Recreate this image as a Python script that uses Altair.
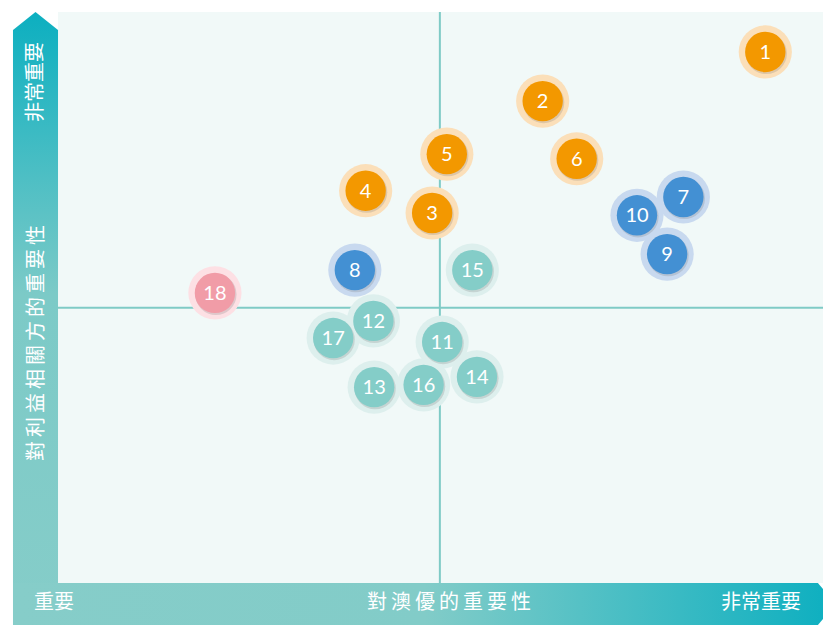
import altair as alt
import pandas as pd

# ---- data (0-10 scales) ----
ids = ["1", "2", "3", "4", "5", "6", "7", "8", "9", "10",
       "11", "12", "13", "14", "15", "16", "17", "18"]
x_vals = [9.15, 6.27, 4.84, 3.98, 5.03, 6.71, 8.09, 3.84, 7.88, 7.49,
          4.97, 4.08, 4.09, 5.42, 5.36, 4.73, 3.56, 2.03]
y_vals = [9.30, 8.44, 6.48, 6.87, 7.51, 7.43, 6.76, 5.48, 5.76, 6.44,
          4.22, 4.59, 3.43, 3.61, 5.48, 3.47, 4.29, 5.08]
groups = ["A", "A", "A", "A", "A", "A", "B", "B", "B", "B",
          "C", "C", "C", "C", "C", "C", "C", "D"]
group_names = ["A", "B", "C", "D"]
inner_colors = ["#f39800", "#4390d3", "#84cdc8", "#f19ca7"]
halo_colors = ["#fbdfb9", "#c8d9ef", "#ddefed", "#fde0e4"]

center_x = [4.94]
center_y = [4.82]

y_top_label = "非常重要"
y_title = "\u2009".join("對利益相關方的重要性")
x_title = "\u2009".join("對澳優的重要性")
x_low_label = "重要"
x_high_label = "非常重要"

df = pd.DataFrame({"id": ids, "x": x_vals, "y": y_vals, "g": groups})
one = pd.DataFrame({"cx": center_x, "cy": center_y})

PW = 765  # plot width that fits the page (visible part of a 773px-wide 0-10 scale)
xs = alt.Scale(domain=[0, 10 * PW / 773], nice=False, zero=False)
ys = alt.Scale(domain=[0, 10], nice=False, zero=False)

X = alt.X("x:Q", scale=xs, axis=None)
Y = alt.Y("y:Q", scale=ys, axis=None)

# decorative axis bars (gradient arrows)
left_grad = {"gradient": "linear", "x1": 0, "y1": 0, "x2": 0, "y2": 1,
             "stops": [{"offset": 0, "color": "#0cafc0"},
                       {"offset": 0.45, "color": "#7ccac7"},
                       {"offset": 1, "color": "#86cdc9"}]}
bottom_grad = {"gradient": "linear", "x1": 0, "y1": 0, "x2": 1, "y2": 0,
               "stops": [{"offset": 0, "color": "#86cdc9"},
                         {"offset": 0.5, "color": "#82ccc8"},
                         {"offset": 1, "color": "#0cafc0"}]}

left_path = "M-0.0717,1 L-0.0717,-0.943 L0,-1 L0.0717,-0.943 L0.0717,1 Z"
bottom_path = "M-1,-0.051 L0.956,-0.051 L1,0 L0.956,0.051 L-1,0.051 Z"

base1 = alt.Chart(one)

left_bar = base1.mark_point(shape=left_path, filled=True, fill=left_grad,
                            strokeWidth=0, opacity=1, size=628 * 628).encode(
    x=alt.value(-22.5), y=alt.value(314))
bottom_bar = base1.mark_point(shape=bottom_path, filled=True, fill=bottom_grad,
                              strokeWidth=0, opacity=1, size=823 * 823).encode(
    x=alt.value(366.5), y=alt.value(592))

vline = base1.mark_rule(color="#7fcbc6", strokeWidth=2).encode(
    x=alt.X("cx:Q", scale=xs, axis=None))
hline = base1.mark_rule(color="#7fcbc6", strokeWidth=2).encode(
    y=alt.Y("cy:Q", scale=ys, axis=None))

txt_style = dict(color="white", font="Noto Sans CJK TC", fontSize=20,
                 baseline="middle", align="center")
t1 = base1.mark_text(text=y_top_label, angle=270, **txt_style).encode(
    x=alt.value(-22), y=alt.value(70))
t2 = base1.mark_text(text=y_title, angle=270, **txt_style).encode(
    x=alt.value(-21), y=alt.value(331))
t3 = base1.mark_text(text=x_title, **txt_style).encode(
    x=alt.value(391), y=alt.value(591))
t4 = base1.mark_text(text=x_low_label, **txt_style).encode(
    x=alt.value(-4), y=alt.value(591))
t5 = base1.mark_text(text=x_high_label, **txt_style).encode(
    x=alt.value(703), y=alt.value(591))

base = alt.Chart(df)
halo = base.mark_circle(size=2830, opacity=1).encode(
    x=X, y=Y,
    color=alt.Color("g:N", scale=alt.Scale(domain=group_names, range=halo_colors), legend=None))
shadow = base.mark_circle(size=1700, opacity=0.18, color="#5a5a5a",
                          xOffset=1, yOffset=1.5).encode(x=X, y=Y)
inner = base.mark_circle(size=1630, opacity=1).encode(
    x=X, y=Y,
    fill=alt.Fill("g:N", scale=alt.Scale(domain=group_names, range=inner_colors), legend=None))
labels = base.mark_text(color="white", font="Lato", fontSize=20,
                        baseline="middle", align="center", dy=1).encode(
    x=X, y=Y, text="id:N")

chart = alt.layer(
    vline, hline, left_bar, bottom_bar, t1, t2, t3, t4, t5,
    halo, shadow, inner, labels
).resolve_scale(color="independent").properties(
    width=PW, height=571,
    autosize=alt.AutoSizeParams(type="none"),
    padding={"left": 50, "top": 4, "right": 0, "bottom": 42},
    background="white",
).configure_view(fill="#f1f9f8", stroke=None)

chart.save("out.html", embed_options={"renderer": "svg", "actions": False})
